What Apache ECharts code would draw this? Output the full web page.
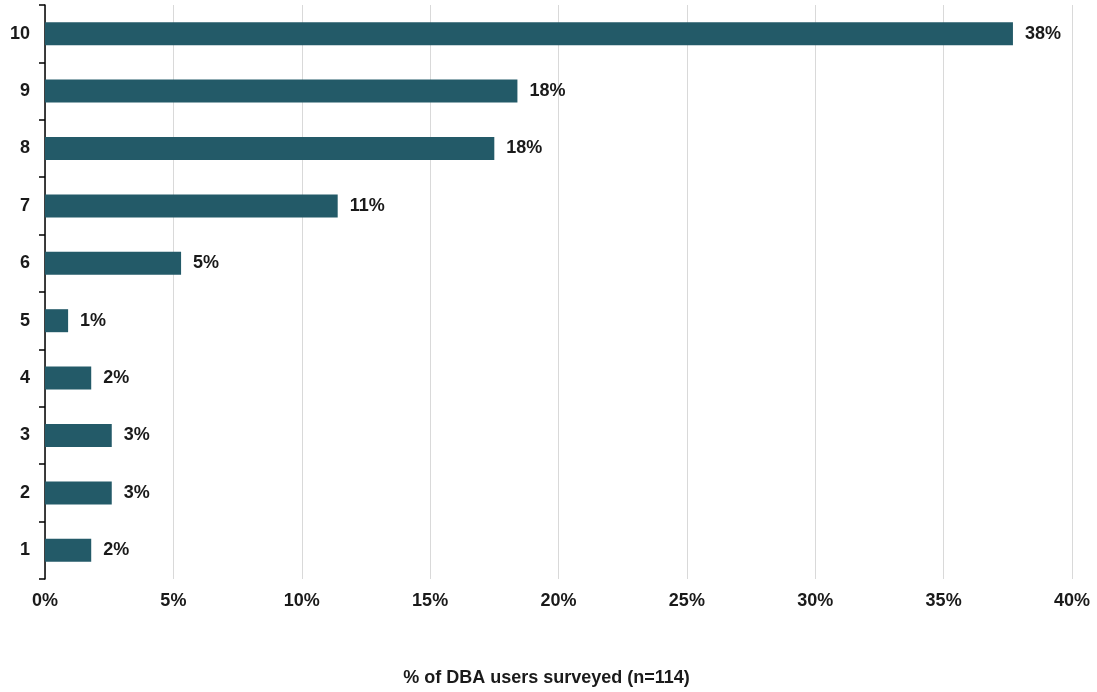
<!DOCTYPE html>
<html>
<head>
<meta charset="utf-8">
<title>DBA survey ratings</title>
<script src="https://cdn.jsdelivr.net/npm/echarts@6/dist/echarts.min.js"></script>
<style>
  html, body { margin: 0; padding: 0; background: #ffffff; }
  #chart { width: 1097px; height: 692px; }
</style>
</head>
<body>
<div id="chart"></div>
<script>
// Rating scores (bottom to top) and share of respondents giving each score, in percent
const ratings = ['1', '2', '3', '4', '5', '6', '7', '8', '9', '10'];
const shares = [1.8, 2.6, 2.6, 1.8, 0.9, 5.3, 11.4, 17.5, 18.4, 37.7];
const axisTicks = [0, 5, 10, 15, 20, 25, 30, 35, 40];
const axisTitle = '% of DBA users surveyed (n=114)';

const FONT = '"Liberation Sans", Arial, sans-serif';
const TEXT = '#1a1a1a';
const SIZE = 18;

const chart = echarts.init(document.getElementById('chart'), null, { renderer: 'canvas' });

chart.setOption({
  animation: false,
  backgroundColor: '#ffffff',
  grid: { left: 45, right: 25, top: 5, bottom: 113, containLabel: false },
  xAxis: {
    type: 'value',
    min: axisTicks[0],
    max: axisTicks[axisTicks.length - 1],
    interval: axisTicks[1] - axisTicks[0],
    name: axisTitle,
    nameLocation: 'middle',
    nameGap: 90,
    nameTextStyle: {
      fontFamily: FONT, fontSize: SIZE, fontWeight: 'bold', color: TEXT,
      padding: [0, 24, 0, 0]
    },
    axisLine: { show: false },
    axisTick: { show: false },
    axisLabel: {
      margin: 13,
      fontFamily: FONT, fontSize: SIZE, fontWeight: 'bold', color: TEXT,
      formatter: v => v + '%'
    },
    splitLine: { show: true, lineStyle: { color: '#d9d9d9', width: 1 } }
  },
  yAxis: {
    type: 'category',
    data: ratings,
    axisLine: { show: true, lineStyle: { color: '#000000', width: 1.5 } },
    axisTick: { show: true, length: 6, lineStyle: { color: '#000000', width: 1.5 } },
    axisLabel: {
      margin: 15,
      fontFamily: FONT, fontSize: SIZE, fontWeight: 'bold', color: TEXT
    },
    splitLine: { show: false }
  },
  series: [{
    type: 'bar',
    data: shares,
    barWidth: 23,
    itemStyle: { color: '#235a68' },
    label: {
      show: true,
      position: 'right',
      distance: 12,
      fontFamily: FONT, fontSize: SIZE, fontWeight: 'bold', color: TEXT,
      formatter: p => Math.round(p.value) + '%'
    }
  }]
});
</script>
</body>
</html>
